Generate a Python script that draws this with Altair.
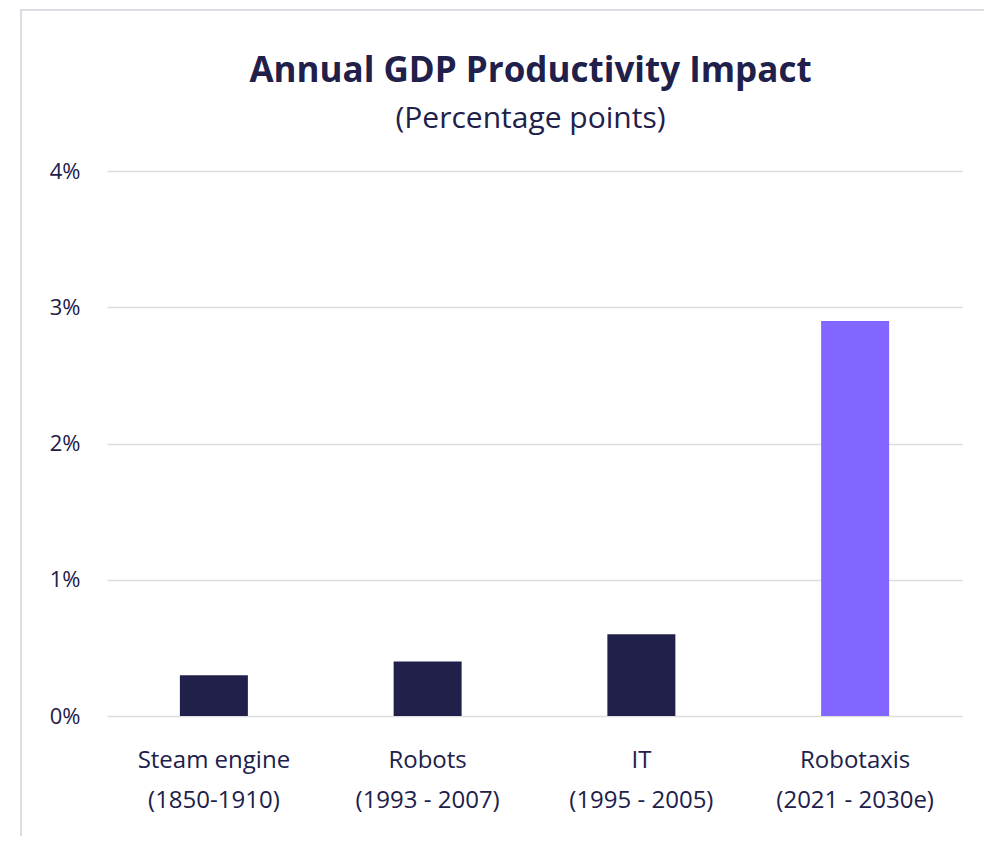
import altair as alt
import pandas as pd

categories = ["Steam engine", "Robots", "IT", "Robotaxis"]
periods = ["(1850-1910)", "(1993 - 2007)", "(1995 - 2005)", "(2021 - 2030e)"]
values = [0.003, 0.004, 0.006, 0.029]
groups = ["Historical", "Historical", "Historical", "Robotaxis"]
y_ticks = [0, 0.01, 0.02, 0.03, 0.04]
title_text = "Annual GDP Productivity Impact"
subtitle_text = "(Percentage points)"

labels = [f"{c}|{p}" for c, p in zip(categories, periods)]
df = pd.DataFrame({"label": labels, "value": values, "group": groups})
tdf = pd.DataFrame({"t": [title_text], "s": [subtitle_text]})

NAVY = "#20204a"
PURPLE = "#8266ff"
FONT = "Open Sans"
W, H = 855, 545

bars = alt.Chart(df).mark_bar(size=68).encode(
    x=alt.X("label:N", sort=labels, title=None,
            axis=alt.Axis(labelAngle=0, labelExpr="split(datum.label, '|')",
                          labelFontSize=24, labelLineHeight=40, labelColor=NAVY,
                          labelFont=FONT, labelPadding=32, ticks=False, domain=False,
                          labelBaseline="top")),
    y=alt.Y("value:Q", title=None, scale=alt.Scale(domain=[0, 0.04], nice=False),
            axis=alt.Axis(values=y_ticks, format=".0%", labelFontSize=22, labelColor=NAVY,
                          labelFont=FONT, labelPadding=27, ticks=False, domain=False,
                          gridColor="#dddddd", gridWidth=1.5)),
    color=alt.Color("group:N", legend=None,
                    scale=alt.Scale(domain=["Historical", "Robotaxis"], range=[NAVY, PURPLE])),
)

title = alt.Chart(tdf).mark_text(font=FONT, fontSize=35, fontWeight="bold", color=NAVY,
                                 align="center", baseline="alphabetic").encode(
    text="t:N", x=alt.value(W / 2 - 4), y=alt.value(-89)
)
subtitle = alt.Chart(tdf).mark_text(font=FONT, fontSize=30, color=NAVY,
                                    align="center", baseline="alphabetic").encode(
    text="s:N", x=alt.value(W / 2 - 4), y=alt.value(-43)
)

frame_v = alt.Chart(tdf).mark_rule(color="#dcdce6", strokeWidth=2).encode(
    x=alt.value(-86), y=alt.value(-161), y2=alt.value(700)
)
frame_h = alt.Chart(tdf).mark_rule(color="#dcdce6", strokeWidth=2).encode(
    x=alt.value(-87), x2=alt.value(900), y=alt.value(-161)
)

chart = alt.layer(frame_v, frame_h, bars, title, subtitle).properties(
    width=W,
    height=H,
    padding={"left": 99, "top": 163, "right": 22, "bottom": 120},
    autosize=alt.AutoSizeParams(type="none"),
).configure_view(stroke=None)

chart.save("out.html", embed_options={"renderer": "svg", "actions": False})
